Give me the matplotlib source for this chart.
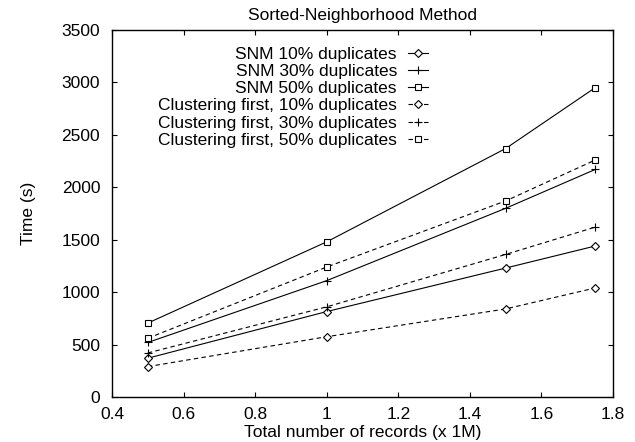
import matplotlib.pyplot as plt

plt.rcParams['font.family'] = 'Liberation Sans'

records = [0.5, 1.0, 1.5, 1.75]

snm_10 = [370, 815, 1230, 1440]
snm_30 = [520, 1110, 1800, 2170]
snm_50 = [705, 1480, 2370, 2950]
cf_10 = [290, 575, 840, 1040]
cf_30 = [420, 860, 1360, 1620]
cf_50 = [560, 1240, 1870, 2260]

series = [
    ('SNM 10% duplicates', snm_10, '-', 'D'),
    ('SNM 30% duplicates', snm_30, '-', '+'),
    ('SNM 50% duplicates', snm_50, '-', 's'),
    ('Clustering first, 10% duplicates', cf_10, '--', 'D'),
    ('Clustering first, 30% duplicates', cf_30, '--', '+'),
    ('Clustering first, 50% duplicates', cf_50, '--', 's'),
]

fig = plt.figure(figsize=(6.35, 4.42), dpi=100)
ax = fig.add_axes([0.1764, 0.1018, 0.789, 0.8302])

for label, vals, ls, mk in series:
    size = {'D': 4.0, 's': 4.5, '+': 5.5}[mk]
    ax.plot(records, vals, color='black', linestyle=ls, linewidth=0.8,
            marker=mk, markersize=size, markerfacecolor='white',
            markeredgecolor='black', markeredgewidth=0.8,
            dashes=(4, 3) if ls == '--' else (None, None), label=label)

ax.set_xlim(0.4, 1.8)
ax.set_ylim(0, 3500)
ax.set_xticks([0.4, 0.6, 0.8, 1.0, 1.2, 1.4, 1.6, 1.8])
ax.set_xticklabels(['0.4', '0.6', '0.8', '1', '1.2', '1.4', '1.6', '1.8'])
ax.set_yticks(range(0, 3501, 500))
ax.tick_params(direction='in', top=True, right=True, length=3.6, width=0.8,
               labelsize=12.5)
ax.tick_params(axis='y', pad=8.5)
ax.tick_params(axis='x', pad=7.5)
for sp in ax.spines.values():
    sp.set_linewidth(1.0)
ax.set_xlabel('Total number of records (x 1M)', fontsize=12.5, labelpad=2)
ax.set_ylabel('Time (s)', fontsize=12.5, labelpad=18)
ax.set_title('Sorted-Neighborhood Method', fontsize=12.5, pad=7)

ax.legend(loc='upper right', bbox_to_anchor=(0.631, 0.955), frameon=False,
          markerfirst=False, fontsize=12.5, handlelength=1.15, labelspacing=0.12,
          borderpad=0.0, borderaxespad=0.0, handletextpad=0.65)

fig.savefig('out.png', dpi=100)
